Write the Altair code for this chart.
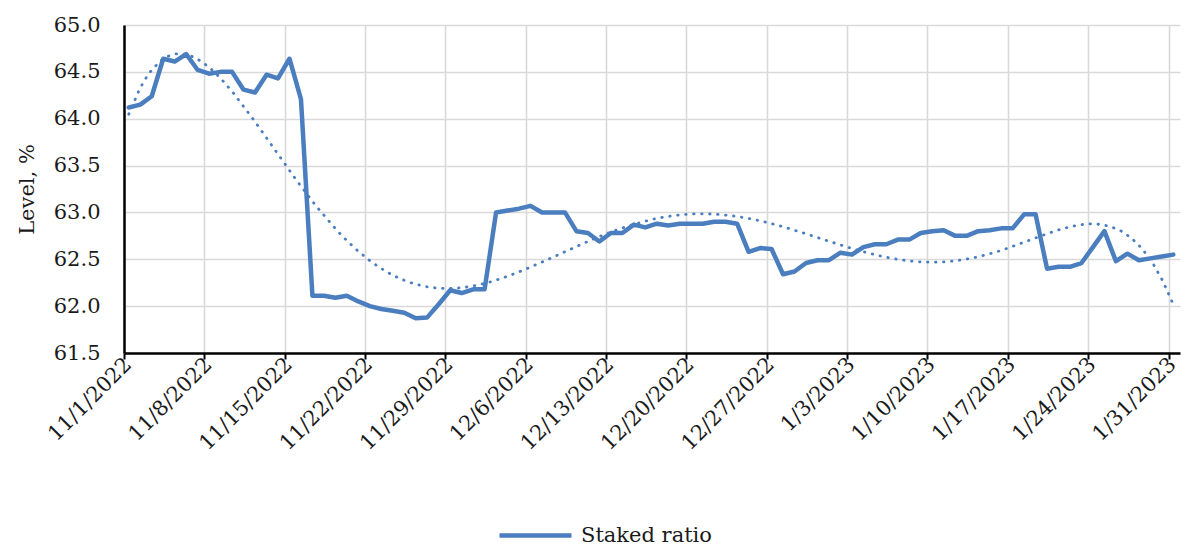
import altair as alt
import pandas as pd

# Daily observations 11/1/2022 .. 1/31/2023 (snapshot taken mid-morning)
dates = pd.date_range("2022-11-01 10:00", periods=92, freq="D")
staked_ratio = [
    64.12, 64.15, 64.24, 64.64, 64.61, 64.69, 64.52, 64.48, 64.50, 64.50,
    64.31, 64.28, 64.47, 64.43, 64.64, 64.21, 62.11, 62.11, 62.09, 62.11,
    62.05, 62.00, 61.97, 61.95, 61.93, 61.87, 61.88, 62.02, 62.17, 62.14,
    62.18, 62.18, 63.00, 63.02, 63.04, 63.07, 63.00, 63.00, 63.00, 62.80,
    62.78, 62.69, 62.78, 62.78, 62.87, 62.84, 62.88, 62.86, 62.88, 62.88,
    62.88, 62.90, 62.90, 62.88, 62.58, 62.62, 62.61, 62.34, 62.37, 62.46,
    62.49, 62.49, 62.57, 62.55, 62.63, 62.66, 62.66, 62.71, 62.71, 62.78,
    62.80, 62.81, 62.75, 62.75, 62.80, 62.81, 62.83, 62.83, 62.98, 62.98,
    62.40, 62.42, 62.42, 62.46, 62.63, 62.80, 62.48, 62.56, 62.49, 62.51,
    62.53, 62.55,
]
series_name = "Staked ratio"
y_ticks = [61.5, 62.0, 62.5, 63.0, 63.5, 64.0, 64.5, 65.0]
x_tick_dates = pd.date_range("2022-11-01", "2023-01-31", freq="7D")

origin = pd.Timestamp("2022-11-01", tz="UTC")
ms_start = int(origin.value // 10**6)
ms_end = int(pd.Timestamp("2023-02-01", tz="UTC").value // 10**6)
x_tick_values = [int(pd.Timestamp(d, tz="UTC").value // 10**6) for d in x_tick_dates]

df = pd.DataFrame({
    "date": [d.strftime("%Y-%m-%dT%H:%M:%SZ") for d in dates],
    "t": [(d - pd.Timestamp("2022-11-01")).total_seconds() / 86400 for d in dates],
    "value": staked_ratio,
    "series": series_name,
})

FONT = "DejaVu Serif"
BLUE = "#4A7EBF"

x_axis = alt.Axis(
    values=x_tick_values,
    labelExpr="utcFormat(datum.value, '%-m/%-d/%Y')",
    labelAngle=315, labelAlign="right", labelBaseline="middle",
    labelPadding=2, labelOffset=4,
    labelOverlap=False, labelFlush=False, labelBound=False,
    tickSize=6, tickColor="black", tickWidth=2,
    domainColor="black", domainWidth=2.5,
    gridColor="#D9D9D9", gridWidth=1.6,
    title=None,
)
y_axis = alt.Axis(
    values=y_ticks, format=".1f",
    ticks=False, labelPadding=24,
    domainColor="black", domainWidth=2.5,
    gridColor="#D9D9D9", gridWidth=1.6,
    title="Level, %", titleAngle=270, titleX=-97, titleY=164,
    titleAlign="center", titleBaseline="middle",
)

x_scale = alt.Scale(type="utc", domain=[ms_start, ms_end])
y_scale = alt.Scale(domain=[61.5, 65.0], nice=False, zero=False)

line = alt.Chart(df).mark_line(strokeWidth=4.5, strokeJoin="round", strokeCap="round").encode(
    x=alt.X("date:T", scale=x_scale, axis=x_axis),
    y=alt.Y("value:Q", scale=y_scale, axis=y_axis),
    color=alt.Color(
        "series:N",
        scale=alt.Scale(domain=[series_name], range=[BLUE]),
        legend=alt.Legend(
            title=None, orient="none", legendX=373, legendY=472,
            symbolType="stroke", symbolSize=5184, symbolStrokeWidth=4.5,
            labelFont=FONT, labelFontSize=21, labelColor="#1a1a1a", labelOffset=7,
        ),
    ),
)

trend = alt.Chart(df).transform_regression(
    "t", "value", method="poly", order=6
).transform_calculate(
    date=f"{ms_start} + datum.t * 86400000"
).mark_line(
    color=BLUE, strokeWidth=2.8, strokeDash=[0.5, 7.5], strokeCap="round"
).encode(
    x=alt.X("date:T", scale=x_scale),
    y=alt.Y("value:Q", scale=y_scale),
)

chart = alt.layer(trend, line).properties(
    width=1056, height=328,
    autosize=alt.AutoSizeParams(type="none"),
    padding={"left": 116, "top": 17, "right": 10, "bottom": 196},
).configure_view(
    stroke=None
).configure_axis(
    labelFont=FONT, labelFontSize=21, labelColor="#1a1a1a",
    titleFont=FONT, titleFontSize=21, titleFontWeight="normal", titleColor="#1a1a1a",
)

chart.save("out.html", embed_options={"renderer": "svg", "actions": False})
